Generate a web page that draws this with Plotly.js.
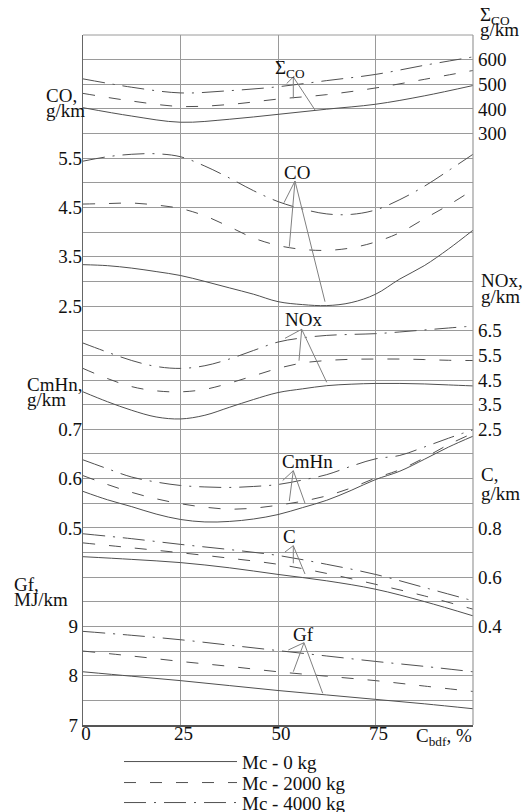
<!DOCTYPE html>
<html><head><meta charset="utf-8">
<script src="https://cdn.plot.ly/plotly-3.0.1.min.js"></script>
<style>html,body{margin:0;padding:0;background:#fff}#chart{width:523px;height:812px}</style>
</head><body><div id="chart"></div>
<script>
// ---------- data ----------
const xCoarse = [0, 12.5, 25, 37.5, 50, 62.5, 75, 87.5, 100];
const xFine = [0, 6.25, 12.5, 18.75, 25, 31.25, 37.5, 43.75, 50, 56.25, 62.5, 68.75, 75, 81.25, 87.5, 93.75, 100];
const xTicks = [0, 25, 50, 75];
const massLabels = ['Mc - 0 kg', 'Mc - 2000 kg', 'Mc - 4000 kg'];

// sum of CO, g/km (xCoarse)
const sumCO_0    = [405, 371, 346, 358, 378, 399, 419, 453, 495];
const sumCO_2000 = [463, 432, 410, 418, 440, 458, 485, 520, 556];
const sumCO_4000 = [522, 488, 465, 474, 490, 515, 540, 577, 611];
const sumCOTicks = [300, 400, 500, 600];

// CO, g/km (xFine)
const co_0    = [3.34, 3.32, 3.27, 3.20, 3.12, 3.00, 2.87, 2.74, 2.59, 2.53, 2.51, 2.57, 2.74, 3.05, 3.32, 3.66, 4.04];
const co_2000 = [4.57, 4.58, 4.59, 4.55, 4.48, 4.33, 4.11, 3.88, 3.73, 3.65, 3.63, 3.68, 3.80, 3.99, 4.27, 4.55, 4.86];
const co_4000 = [5.44, 5.53, 5.58, 5.59, 5.53, 5.34, 5.10, 4.84, 4.62, 4.47, 4.37, 4.36, 4.45, 4.66, 4.93, 5.25, 5.58];
const coTicks = [2.5, 3.5, 4.5, 5.5];

// NOx, g/km (xFine)
const nox_0    = [4.02, 3.62, 3.27, 3.00, 2.92, 3.07, 3.39, 3.71, 3.99, 4.14, 4.27, 4.33, 4.36, 4.36, 4.34, 4.30, 4.26];
const nox_2000 = [4.97, 4.56, 4.23, 4.06, 4.02, 4.12, 4.37, 4.67, 4.97, 5.19, 5.29, 5.34, 5.35, 5.35, 5.33, 5.30, 5.29];
const nox_4000 = [6.00, 5.63, 5.29, 5.05, 4.97, 5.08, 5.35, 5.70, 6.04, 6.21, 6.31, 6.35, 6.38, 6.45, 6.53, 6.61, 6.69];
const noxTicks = [2.5, 3.5, 4.5, 5.5, 6.5];

// CmHn, g/km (xFine)
const cmhn_0    = [0.574, 0.557, 0.543, 0.528, 0.517, 0.512, 0.513, 0.518, 0.527, 0.541, 0.556, 0.576, 0.598, 0.615, 0.639, 0.664, 0.686];
const cmhn_2000 = [0.606, 0.588, 0.572, 0.559, 0.549, 0.542, 0.538, 0.540, 0.546, 0.554, 0.565, 0.581, 0.601, 0.618, 0.642, 0.669, 0.692];
const cmhn_4000 = [0.638, 0.620, 0.603, 0.593, 0.586, 0.583, 0.582, 0.584, 0.588, 0.597, 0.608, 0.625, 0.640, 0.647, 0.664, 0.682, 0.699];
const cmhnTicks = [0.5, 0.6, 0.7];

// C, g/km (xCoarse)
const c_0    = [0.683, 0.672, 0.659, 0.638, 0.611, 0.585, 0.551, 0.501, 0.443];
const c_2000 = [0.739, 0.719, 0.699, 0.677, 0.652, 0.615, 0.571, 0.524, 0.470];
const c_4000 = [0.776, 0.756, 0.733, 0.712, 0.688, 0.652, 0.611, 0.558, 0.504];
const cTicks = [0.4, 0.6, 0.8];

// Gf, MJ/km (xCoarse)
const gf_0    = [8.08, 7.99, 7.90, 7.80, 7.70, 7.61, 7.52, 7.43, 7.33];
const gf_2000 = [8.50, 8.40, 8.29, 8.19, 8.08, 7.99, 7.90, 7.79, 7.68];
const gf_4000 = [8.90, 8.82, 8.73, 8.62, 8.51, 8.40, 8.29, 8.19, 8.08];
const gfTicks = [7, 8, 9];

// ---------- styling / layout helpers ----------
const FONT = '"Liberation Serif", "Times New Roman", Times, serif';
const TXT = '#111';
const LINE = '#505050';
const GRID = '#9a9a9a';
const LEAD = '#808080';
const DASHES = ['solid', '12px,14px', '22px,8px,2px,8px'];
const W = 523, H = 812, L = 83, R = 50, T = 35, B = 87;
const PW = W - L - R, PH = H - T - B;
const NLINES = 28;
const px = v => (v - L) / PW;
const py = v => (H - B - v) / PH;

// axis range so that tick value v0 sits on gridline g0 (counted from the bottom), "per" units per gridline
function rng(v0, g0, per) { return [v0 - g0 * per, v0 + (NLINES - g0) * per]; }

function valueAxis(side, range, tickvals, extra) {
  return Object.assign({
    anchor: 'x', side: side, range: range, tickvals: tickvals,
    ticktext: tickvals.map(String), showgrid: false, zeroline: false, showline: false,
    ticks: '', tickfont: {family: FONT, size: 19, color: TXT},
    ticklabelstandoff: side === 'left' ? 0 : 4, fixedrange: true
  }, extra || {});
}

const groups = [
  {axis: 'y2', x: xCoarse, vals: [sumCO_0, sumCO_2000, sumCO_4000]},
  {axis: 'y3', x: xFine, vals: [co_0, co_2000, co_4000]},
  {axis: 'y4', x: xFine, vals: [nox_0, nox_2000, nox_4000]},
  {axis: 'y5', x: xFine, vals: [cmhn_0, cmhn_2000, cmhn_4000]},
  {axis: 'y6', x: xCoarse, vals: [c_0, c_2000, c_4000]},
  {axis: 'y',  x: xCoarse, vals: [gf_0, gf_2000, gf_4000], legend: true}
];

const traces = [];
groups.forEach(g => {
  g.vals.forEach((v, i) => {
    traces.push({
      type: 'scatter', mode: 'lines', x: g.x, y: v, yaxis: g.axis,
      name: massLabels[i], showlegend: !!g.legend,
      legend: i === 0 ? 'legend' : ('legend' + (i + 1)),
      line: {color: LINE, width: 1, dash: DASHES[i], shape: 'spline', smoothing: 1},
      hoverinfo: 'skip'
    });
  });
});

// leader lines (pixel coords of apex and ends)
const leaders = [
  {apex: [293.3, 77], ends: [[286.7, 83.5], [293.3, 98.3], [315, 110]]},
  {apex: [295, 181], ends: [[284, 202.7], [289.3, 246.7], [325, 301.7]]},
  {apex: [301.7, 329.3], ends: [[285, 338.3], [299, 360.7], [326.7, 382.3]]},
  {apex: [293.3, 470.7], ends: [[282.7, 480.5], [289.3, 501], [305, 503.3]]},
  {apex: [293.3, 545.7], ends: [[285, 552], [293.3, 563.3], [305, 574]]},
  {apex: [304, 642.7], ends: [[288.3, 650], [293.3, 671.7], [322.7, 693.3]]}
];
const shapes = [];
leaders.forEach(l => l.ends.forEach(e => shapes.push({
  type: 'line', xref: 'paper', yref: 'paper', layer: 'above',
  x0: px(l.apex[0]), y0: py(l.apex[1]), x1: px(e[0]), y1: py(e[1]),
  line: {color: LEAD, width: 1}
})));
// top and right frame
shapes.push({type: 'line', xref: 'paper', yref: 'paper', x0: 0, x1: 1, y0: 1, y1: 1, line: {color: GRID, width: 1}});
shapes.push({type: 'line', xref: 'paper', yref: 'paper', x0: 1, x1: 1, y0: 0, y1: 1, line: {color: GRID, width: 1.2}});

function ann(text, x, y, xanchor, size) {
  return {text: text, xref: 'paper', yref: 'paper', x: px(x), y: py(y), xanchor: xanchor || 'left',
          yanchor: 'middle', showarrow: false, font: {family: FONT, size: size || 19, color: TXT}};
}
const annotations = [
  // curve labels
  ann('Σ<sub>CO</sub>', 290, 69, 'center'),
  ann('CO', 296.7, 172, 'center'),
  ann('NOx', 303.3, 319, 'center'),
  ann('CmHn', 307, 461.7, 'center'),
  ann('C', 289.5, 536.7, 'center'),
  ann('Gf', 303.3, 634.5, 'center'),
  // axis titles (left)
  ann('CO,', 44, 95.5), ann('g/km', 44, 111),
  ann('CmHn,', 25, 384), ann('g/km', 25, 399),
  ann('Gf,', 12, 584), ann('MJ/km', 12, 599),
  // axis titles (right)
  ann('Σ<sub>CO</sub>', 478, 16), ann('g/km', 478, 29),
  ann('NOx,', 479, 280), ann('g/km', 479, 297),
  ann('C,', 479, 475), ann('g/km', 479, 493),
  // x title
  ann('C<sub>bdf</sub>, %', 474, 737, 'right')
];

const legendBase = {
  xanchor: 'left', yanchor: 'middle', x: px(119), bgcolor: 'rgba(0,0,0,0)', borderwidth: 0,
  font: {family: FONT, size: 19, color: TXT}, itemwidth: 113, tracegroupgap: 0
};

const layout = {
  width: W, height: H,
  margin: {l: L, r: R, t: T, b: B, pad: 0, autoexpand: false},
  paper_bgcolor: '#fff', plot_bgcolor: '#fff',
  showlegend: true,
  legend: Object.assign({}, legendBase, {y: py(761.7)}),
  legend2: Object.assign({}, legendBase, {y: py(782.7)}),
  legend3: Object.assign({}, legendBase, {y: py(802.7)}),
  xaxis: {
    range: [0, 100], tickvals: xTicks, ticktext: xTicks.map(String), showgrid: true,
    gridcolor: GRID, gridwidth: 1, showline: true, linecolor: '#555', linewidth: 1.5,
    zeroline: false, ticks: '', ticklabelstandoff: -9, ticklabelshift: 3,
    tickfont: {family: FONT, size: 19, color: TXT}, fixedrange: true
  },
  // main axis: Gf scale, also carries the horizontal grid (one line per 0.5 MJ/km)
  yaxis: valueAxis('left', rng(7, 0, 0.5), gfTicks, {
    showgrid: true, gridcolor: GRID, gridwidth: 1,
    showline: true, linecolor: '#666', linewidth: 1.3,
    minor: {tickmode: 'linear', tick0: 7, dtick: 0.5, showgrid: true, gridcolor: GRID, gridwidth: 1, ticks: ''}
  }),
  yaxis2: valueAxis('right', rng(300, 24, 100), sumCOTicks, {overlaying: 'y'}),
  yaxis3: valueAxis('left', rng(2.5, 17, 0.5), coTicks, {overlaying: 'y'}),
  yaxis4: valueAxis('right', rng(2.5, 12, 1), noxTicks, {overlaying: 'y'}),
  yaxis5: valueAxis('left', rng(0.5, 8, 0.05), cmhnTicks, {overlaying: 'y'}),
  yaxis6: valueAxis('right', rng(0.4, 4, 0.1), cTicks, {overlaying: 'y'}),
  shapes: shapes,
  annotations: annotations
};

Plotly.newPlot('chart', traces, layout, {displayModeBar: false, staticPlot: true});
</script>
</body></html>
